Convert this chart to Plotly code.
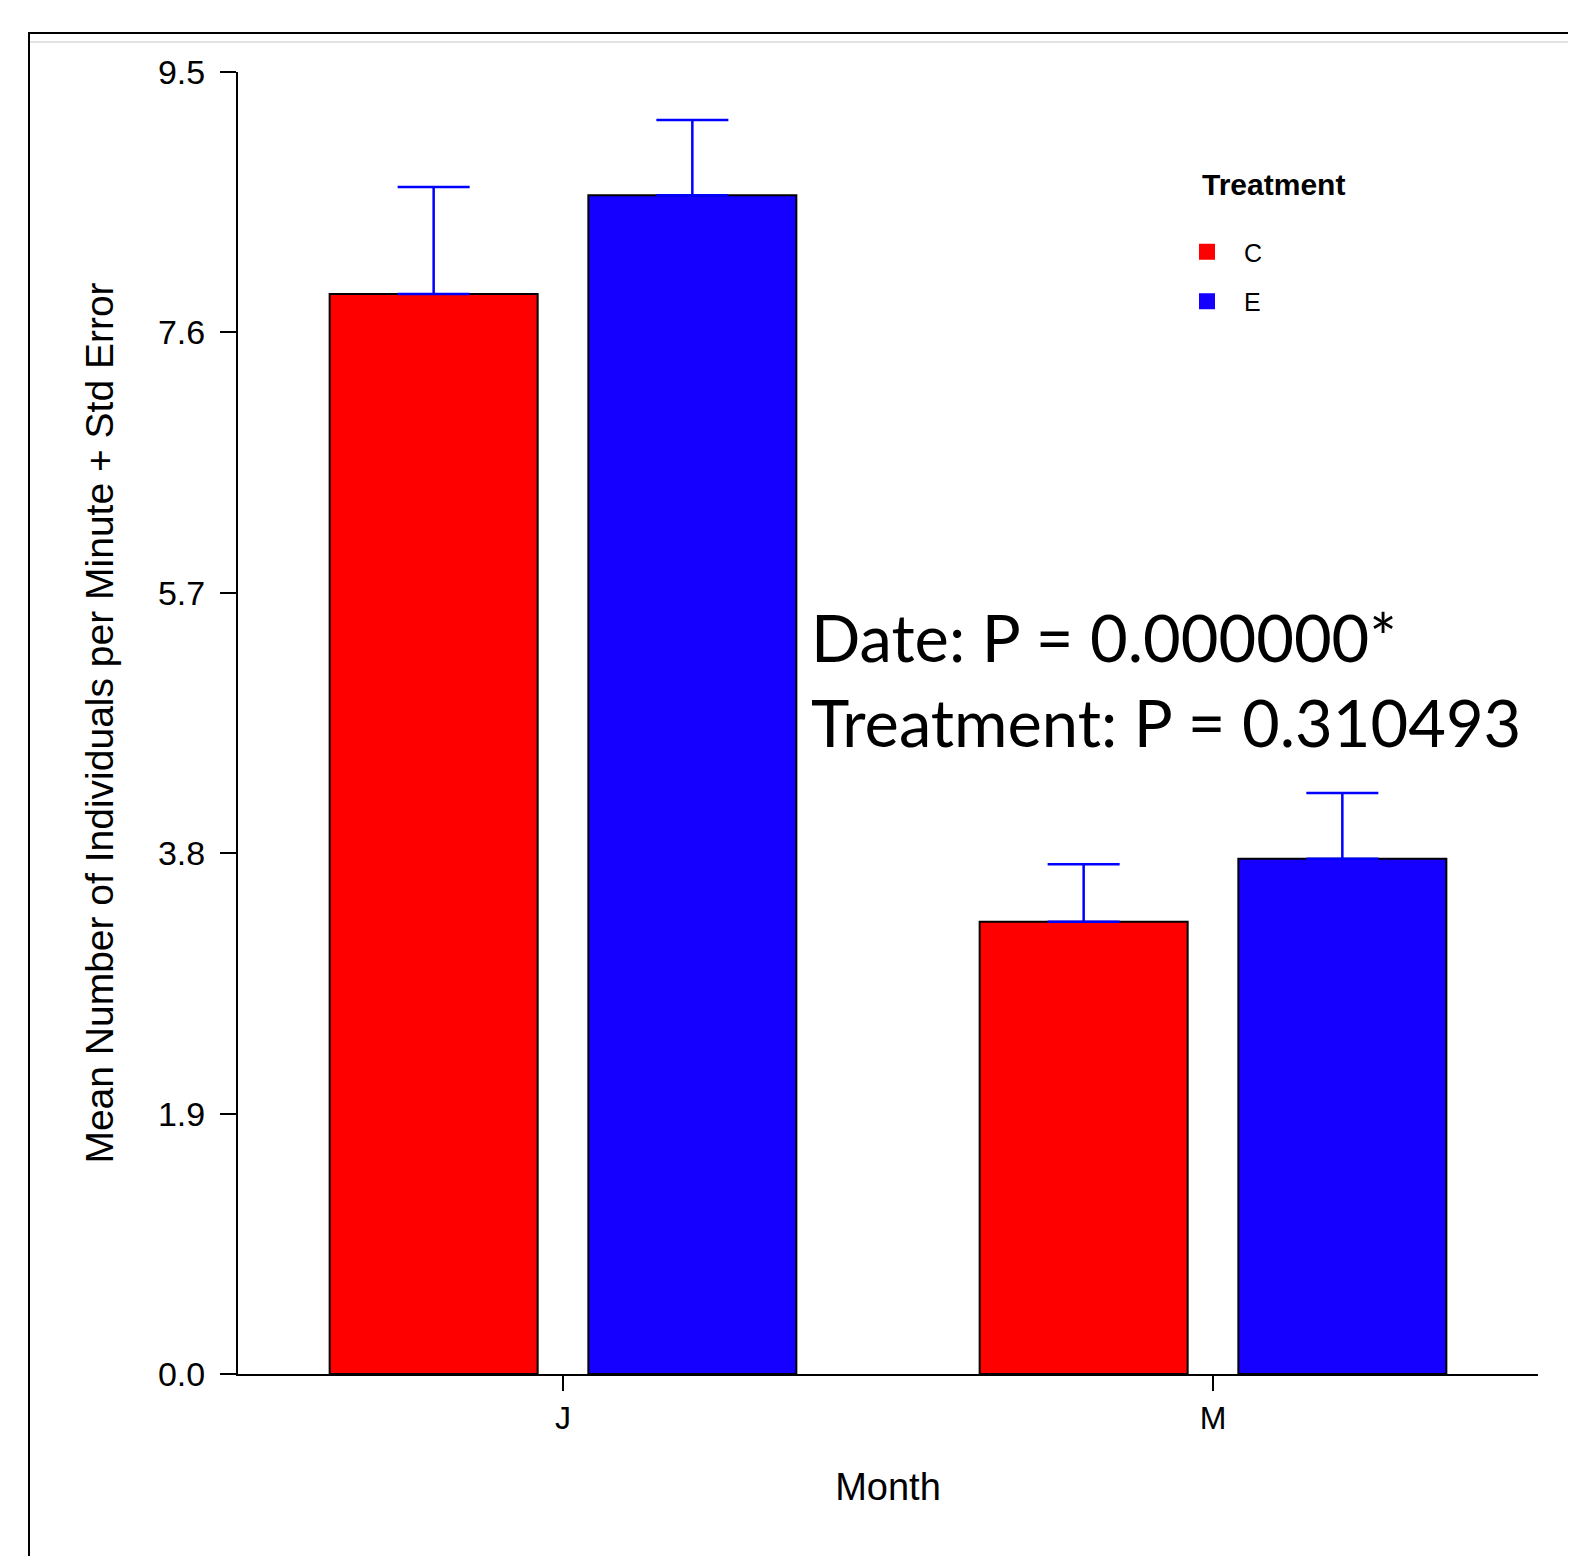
import plotly.graph_objects as go

# ---- data ----
months = ["J", "M"]
treatments = ["C", "E"]
c_means = [7.88, 3.30]
c_se = [0.78, 0.42]
e_means = [8.60, 3.76]
e_se = [0.55, 0.48]
y_ticks = [0.0, 1.9, 3.8, 5.7, 7.6, 9.5]
legend_title = "Treatment"
stats_text = ["Date: P = 0.000000*", "Treatment: P = 0.310493"]

RED = "#FF0000"
BLUE = "#1500FF"
ERR = "#0000FF"

# page body has an 8px margin; work in figure coordinates
W, H = 1568, 1548
L, R, T, B = 230, 38, 64, 182
pw = W - L - R
ph = H - T - B


def px(x):
    return (x - L) / pw


def py(y):
    return (H - B - y) / ph


fig = go.Figure()

for name, means, se, color, off in [
    (treatments[0], c_means, c_se, RED, -0.359),
    (treatments[1], e_means, e_se, BLUE, 0.039),
]:
    fig.add_trace(go.Bar(
        x=months, y=means, name=name, width=0.32, offset=off,
        marker=dict(color=color, line=dict(color="black", width=2)),
        error_y=dict(type="data", array=se, arrayminus=[0] * len(se), symmetric=False,
                     color=ERR, thickness=2.5, width=36),
        showlegend=False,
    ))
    # legend entries (plain squares)
    fig.add_trace(go.Scatter(
        x=[None], y=[None], mode="markers", name=name, legendgroup=name,
        marker=dict(symbol="square", size=16, color=color, line=dict(width=0)),
    ))

fig.update_layout(
    width=W, height=H,
    margin=dict(l=L, r=R, t=T, b=B, autoexpand=False),
    paper_bgcolor="white", plot_bgcolor="white",
    barmode="overlay",
    font=dict(family="Liberation Sans, Arial, sans-serif", color="black"),
    showlegend=True,
    legend=dict(
        x=px(1162), y=py(221), xanchor="left", yanchor="top",
        font=dict(size=25), tracegroupgap=14, itemsizing="trace", itemwidth=64,
        bgcolor="rgba(0,0,0,0)",
    ),
    xaxis=dict(
        range=[-0.5, 1.5], showgrid=False, zeroline=False,
        showline=True, linecolor="black", linewidth=2,
        ticks="outside", ticklen=15, tickwidth=2, tickcolor="black",
        tickfont=dict(size=32), ticklabelstandoff=0,
        title=dict(text="Month", font=dict(size=38), standoff=38),
    ),
    yaxis=dict(
        range=[0, 9.5], tickvals=y_ticks, ticktext=[f"{v:.1f}" for v in y_ticks],
        showgrid=False, zeroline=False,
        showline=True, linecolor="black", linewidth=2,
        ticks="outside", ticklen=16, tickwidth=2, tickcolor="black",
        tickfont=dict(size=34), ticklabelstandoff=8,
        title=dict(text="Mean Number of Individuals per Minute + Std Error",
                   font=dict(size=39), standoff=32),
    ),
    annotations=[
        dict(
            xref="paper", yref="paper", x=px(801), y=py(628),
            xanchor="left", yanchor="middle", align="left", showarrow=False,
            text="<br>".join(stats_text),
            font=dict(family="Lato, sans-serif", size=65, color="black"),
            yshift=-43,
        ),
        dict(
            xref="paper", yref="paper", x=px(1192), y=py(176),
            xanchor="left", yanchor="middle", showarrow=False,
            text=f"<b>{legend_title}</b>", font=dict(size=30),
        ),
    ],
)

# outer picture frame
fig.add_shape(type="line", xref="paper", yref="paper", x0=px(20), x1=px(W), y0=py(25), y1=py(25),
              line=dict(color="black", width=2))
fig.add_shape(type="line", xref="paper", yref="paper", x0=px(21), x1=px(21), y0=py(25), y1=py(H),
              line=dict(color="black", width=2))
fig.add_shape(type="line", xref="paper", yref="paper", x0=px(22), x1=px(W), y0=py(34), y1=py(34),
              line=dict(color="#C8C8C8", width=1))

fig.write_html("out.html")
